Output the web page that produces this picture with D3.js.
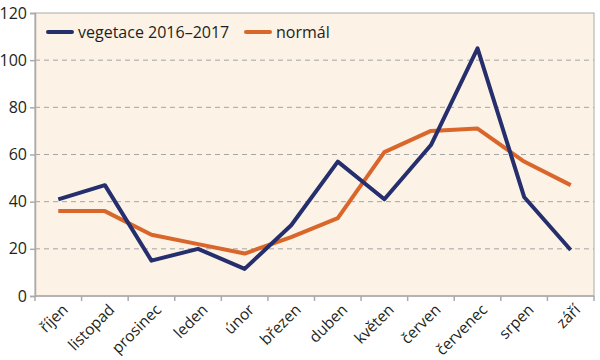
<!DOCTYPE html>
<html>
<head>
<meta charset="utf-8">
<script src="https://cdn.jsdelivr.net/npm/d3@7"></script>
<style>
  body { margin: 0; background: #fff; }
  svg text { font-family: "Open Sans", "Noto Sans", sans-serif; fill: #231f20; }
</style>
</head>
<body>
<div id="chart"></div>
<script>
const months = ['říjen', 'listopad', 'prosinec', 'leden', 'únor', 'březen', 'duben', 'květen', 'červen', 'červenec', 'srpen', 'září'];
const vegetace = [41, 47, 15, 20, 11.5, 30, 57, 41, 64, 105, 42, 19.5];
const normal = [36, 36, 26, 22, 18, 25, 33, 61, 70, 71, 57, 47];
const yTicks = [0, 20, 40, 60, 80, 100, 120];

const W = 600, H = 360;
const margin = { top: 13, right: 6, bottom: 64, left: 35 };
const w = W - margin.left - margin.right;
const h = H - margin.top - margin.bottom;

const svg = d3.select('#chart').append('svg')
  .attr('width', W).attr('height', H);
const g = svg.append('g').attr('transform', `translate(${margin.left},${margin.top})`);

const x = d3.scaleBand().domain(months).range([0, w]);
const y = d3.scaleLinear().domain([0, 120]).range([h, 0]);

g.append('rect').attr('width', w).attr('height', h)
  .attr('fill', '#fcf2e6').attr('stroke', '#aaa').attr('stroke-width', 1);

// dashed grid
g.selectAll('.grid').data(yTicks.filter(d => d > 0 && d < 120)).enter()
  .append('line')
  .attr('x1', 0).attr('x2', w)
  .attr('y1', d => y(d)).attr('y2', d => y(d))
  .attr('stroke', '#a5a5a5').attr('stroke-dasharray', '5,4').attr('stroke-width', 1);

// y axis
const yAxis = g.append('g')
  .call(d3.axisLeft(y).tickValues(yTicks).tickSize(5).tickPadding(3));
yAxis.select('.domain').attr('stroke', '#aaa').attr('stroke-width', 1.5);
yAxis.selectAll('line').attr('stroke', '#aaa').attr('stroke-width', 1.5);
yAxis.selectAll('text').style('font-size', '16px').attr('fill', '#231f20');

// x axis: ticks at band boundaries
const xAxis = g.append('g').attr('transform', `translate(0,${h})`);
xAxis.append('line').attr('x1', 0).attr('x2', w).attr('stroke', '#aaa').attr('stroke-width', 1.5);
const bounds = months.map(m => x(m)).concat([w]);
xAxis.selectAll('.tk').data(bounds).enter().append('line')
  .attr('x1', d => d).attr('x2', d => d).attr('y1', 0).attr('y2', 5)
  .attr('stroke', '#aaa').attr('stroke-width', 1.5);
xAxis.selectAll('.lbl').data(months).enter().append('text')
  .attr('transform', d => `translate(${x(d) + x.bandwidth() / 2 + 3},${7}) rotate(-45)`)
  .attr('text-anchor', 'end')
  .attr('dy', '0.7em')
  .style('font-size', '15.5px')
  .text(d => d);

const line = d3.line()
  .x((d, i) => x(months[i]) + x.bandwidth() / 2)
  .y(d => y(d));

g.append('path').datum(normal)
  .attr('fill', 'none').attr('stroke', '#d9662a').attr('stroke-width', 4)
  .attr('stroke-linejoin', 'round').attr('d', line);
g.append('path').datum(vegetace)
  .attr('fill', 'none').attr('stroke', '#262f6d').attr('stroke-width', 4)
  .attr('stroke-linejoin', 'round').attr('d', line);

// legend
const legend = [
  { name: 'vegetace 2016–2017', color: '#262f6d', x: 13 },
  { name: 'normál', color: '#d9662a', x: 211 }
];
const lg = g.selectAll('.legend').data(legend).enter().append('g')
  .attr('transform', d => `translate(${d.x},19)`);
lg.append('line').attr('x1', 0).attr('x2', 24)
  .attr('stroke', d => d.color).attr('stroke-width', 4).attr('stroke-linecap', 'round');
lg.append('text').attr('x', 30).attr('dy', '0.35em')
  .style('font-size', '16px').text(d => d.name);
</script>
</body>
</html>
